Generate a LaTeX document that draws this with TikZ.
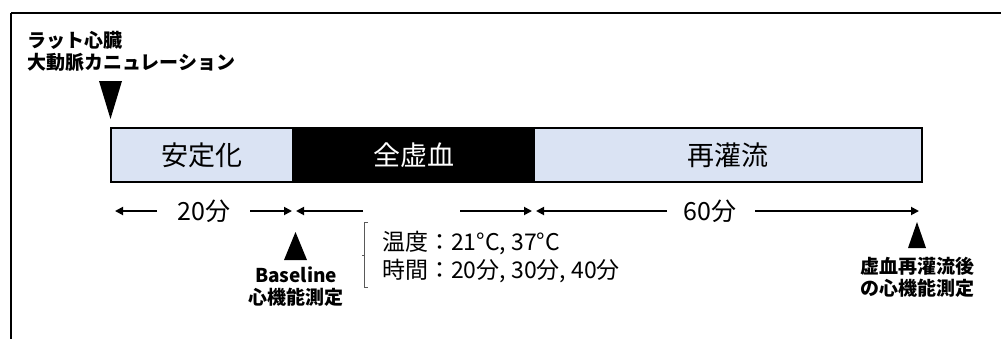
\documentclass[tikz,border=0pt]{standalone}
\usepackage{fontspec}
\setmainfont{Noto Sans CJK JP}
\usetikzlibrary{arrows.meta}
\definecolor{lightbar}{HTML}{DAE3F3}
\tikzset{
  seg/.style={draw=black, line width=2pt, minimum height=54pt, inner sep=0pt, anchor=north west},
  seglabel/.style={font=\fontsize{27}{29}\selectfont},
  tri/.style={fill=black, draw=none},
  dur/.style={line width=1.8pt, -{Triangle[length=8pt,width=8pt]}},
  durlabel/.style={font=\fontsize{25}{27}\selectfont, inner sep=0pt},
  smalllabel/.style={font=\bfseries\fontsize{19}{22}\selectfont, align=center, inner sep=0pt},
  condtext/.style={font=\fontsize{23}{28}\selectfont, align=left, inner sep=0pt, anchor=west},
}
\begin{document}
\begin{tikzpicture}[x=1pt,y=-1pt]
\useasboundingbox (0,0) rectangle (1001,338);
% frame
\draw[line width=2.4pt] (11,13) -- (1003,13);
\draw[line width=2.4pt] (11,13) -- (11,340);

% top label and marker
\node[smalllabel, anchor=west, align=left] (cann) at (27,51) {ラット心臓\\大動脈カニュレーション};
\fill[tri] (99,81) -- (122,81) -- (110.5,119) -- cycle;

% bar segments
\node[seg, fill=lightbar, minimum width=182pt] (stab) at (110,127) {};
\node[seg, fill=black, minimum width=241pt] (isch) at (292,127) {};
\node[seg, fill=lightbar, minimum width=388pt] (rep) at (533,127) {};
\node[seglabel] at (stab.center) {安定化};
\node[seglabel, text=white] at (isch.center) {全虚血};
\node[seglabel] at (rep.center) {再灌流};

% duration arrows
\coordinate (a1s) at (157,211); \coordinate (a1e) at (115,211);
\node[durlabel] (t20) at (204,211) {20分};
\coordinate (a2s) at (250,211); \coordinate (a2e) at (292,211);
\coordinate (a3s) at (363,211); \coordinate (a3e) at (296,211);
\coordinate (a4s) at (460,211); \coordinate (a4e) at (532,211);
\coordinate (a5s) at (667,211); \coordinate (a5e) at (536,211);
\node[durlabel] (t60) at (710,211) {60分};
\coordinate (a6s) at (755,211); \coordinate (a6e) at (919,211);
\draw[dur] (a1s) -- (a1e);
\draw[dur] (a2s) -- (a2e);
\draw[dur] (a3s) -- (a3e);
\draw[dur] (a4s) -- (a4e);
\draw[dur] (a5s) -- (a5e);
\draw[dur] (a6s) -- (a6e);

% baseline marker
\fill[tri] (284,260) -- (307,260) -- (295.5,232) -- cycle;
\node[smalllabel] (base) at (296,287) {Baseline\\心機能測定};

% conditions
\draw[line width=1pt, gray!70!black] (368,222) -- (364,222) -- (364,287) -- (368,287);
\draw[line width=1pt, gray!70!black] (364,255) -- (362,255);
\node[condtext] (cond) at (382,257) {温度：21°C, 37°C\\時間：20分, 30分, 40分};

% final marker
\fill[tri] (908,248) -- (926,248) -- (917,222) -- cycle;
\node[smalllabel] (post) at (917,277) {虚血再灌流後\\の心機能測定};
\end{tikzpicture}
\end{document}
